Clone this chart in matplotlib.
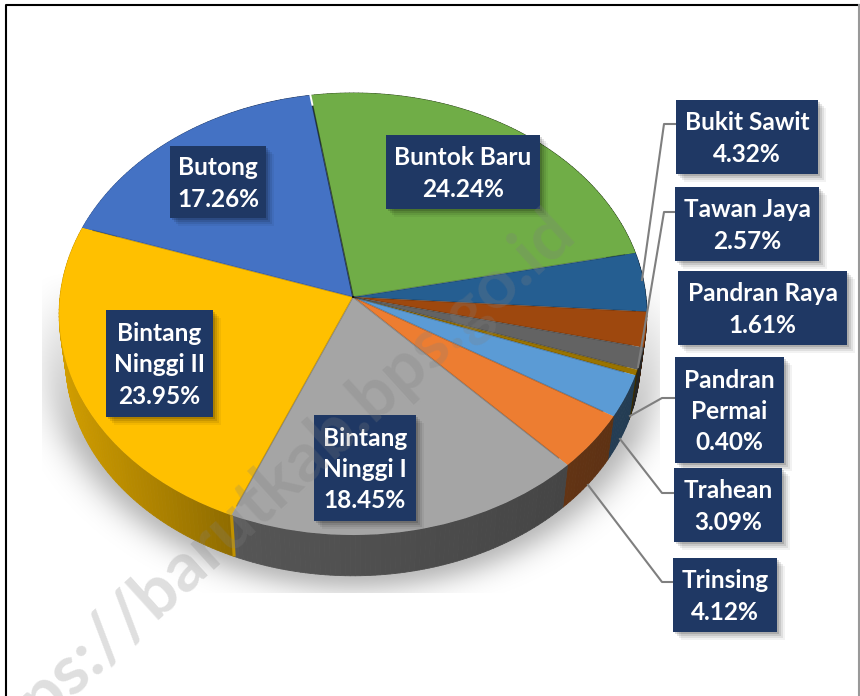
import numpy as np
import matplotlib
matplotlib.use('Agg')
import matplotlib.pyplot as plt
from matplotlib.collections import PolyCollection
from matplotlib.patches import Rectangle
from matplotlib.path import Path
from matplotlib.transforms import Transform

# Data
names = ['Buntok Baru', 'Bukit Sawit', 'Tawan Jaya', 'Pandran Raya', 'Pandran\nPermai',
         'Trahean', 'Trinsing', 'Bintang\nNinggi I', 'Bintang\nNinggi II', 'Butong']
shares = [24.24, 4.32, 2.57, 1.61, 0.40, 3.09, 4.12, 18.45, 23.95, 17.26]
colors = ['#70AD47', '#255E91', '#9E480E', '#636363', '#997300',
          '#5B9BD5', '#ED7D31', '#A5A5A5', '#FFC000', '#4472C4']

# Label boxes in image pixels: left, right, top, bottom
boxes = [(386, 540, 135, 209), (676, 818, 100, 174), (675, 819, 187, 261), (678, 847, 271, 345),
         (675, 784, 357, 463), (674, 782, 468, 542), (673, 777, 558, 632), (314, 416, 415, 521),
         (106, 213, 310, 417), (170, 266, 146, 218)]

# Leader lines in image pixels
leaders = [([676, 664, 642], [124, 124, 280]),
           ([675, 664, 638], [212, 212, 367]),
           ([675, 662, 630], [398, 398, 416]),
           ([674, 662, 620], [493, 493, 439]),
           ([673, 662, 588], [582, 582, 485])]

# Pie geometry
CX, CY = 353, 297
A, B, K = 293, 219.7, 0.0769
DEPTH, SHRINK = 46, 0.022
START = 99


def tilt(u, v, t=0.0):
    w = 1 + K * v
    s = 1 - SHRINK * t
    return CX + s * A * u / w, CY - s * B * v / w + DEPTH * t


class Tilt(Transform):
    input_dims = 2
    output_dims = 2

    def transform_non_affine(self, xy):
        xy = np.asarray(xy, dtype=float)
        return np.column_stack(tilt(xy[:, 0], xy[:, 1]))

    def transform_path_non_affine(self, path):
        return Path(self.transform_non_affine(path.vertices), path.codes)


plt.rcParams['font.family'] = ['Lato', 'DejaVu Sans']

fig = plt.figure(figsize=(8.6, 6.96), dpi=100)
ax = fig.add_axes([0, 0, 1, 1])

# Soft shadow below the pie, fading out towards the top
yy, xx = np.mgrid[0:593, 42:660]
dist = np.hypot((xx - 353) / 300.0, (yy - 345) / 235.0)
fade = np.exp(-(np.clip(dist - 0.96, 0, None) / 0.10) ** 2) * 0.27
fade *= np.clip((yy - 270) / 170.0, 0, 1)
shadow = np.zeros(fade.shape + (4,))
shadow[..., 3] = fade

# Side wall, one quad per small angle step
edges = np.cumsum([0] + shares) / sum(shares)
quads, quad_colors = [], []
for i, col in enumerate(colors):
    base = np.array(matplotlib.colors.to_rgb(col))
    a1 = np.deg2rad(START - 360 * edges[i])
    a2 = np.deg2rad(START - 360 * edges[i + 1])
    steps = np.linspace(a1, a2, max(3, int(shares[i] * 4)))
    for p, q in zip(steps[:-1], steps[1:]):
        x1, y1 = tilt(np.cos(p), np.sin(p))
        x2, y2 = tilt(np.cos(q), np.sin(q))
        x3, y3 = tilt(np.cos(q), np.sin(q), 1)
        x4, y4 = tilt(np.cos(p), np.sin(p), 1)
        quads.append([(x1, y1), (x2, y2), (x3, y3), (x4, y4)])
        f = np.interp((x1 + x2) / 2, [60, 232, 235, 560, 650], [0.82, 0.56, 0.52, 0.42, 0.38])
        quad_colors.append(base * f)

ax.imshow(shadow, extent=(42, 660, 593, 0), zorder=1, aspect='auto', interpolation='bilinear')
ax.add_collection(PolyCollection(quads, facecolors=quad_colors, edgecolors=quad_colors,
                                 linewidths=0.6, zorder=2))

# Top surface
wedges, _ = ax.pie(shares, colors=colors, startangle=START, counterclock=False, radius=1)
tilt_tf = Tilt() + ax.transData
for w in wedges:
    w.set_transform(tilt_tf)
    w.set_zorder(3)

# Dark seams between the slices
for i in range(len(shares)):
    ang = np.deg2rad(START - 360 * edges[i])
    sx, sy = tilt(np.array([0, 0.96]) * np.cos(ang), np.array([0, 0.96]) * np.sin(ang))
    ax.plot(sx, sy, color='black', alpha=0.55 if i == 0 else 0.22, lw=1.2 if i == 0 else 1.0, zorder=4)

# Small white gap at the rim above the green slice
ang = np.deg2rad(START)
gx, gy = tilt(np.array([0.95, 1.02]) * np.cos(ang), np.array([0.95, 1.02]) * np.sin(ang))
ax.plot(gx, gy, color='white', lw=1.4, zorder=4)

# Yellow edge on the wall next to the grey slice
ang = np.deg2rad(START - 360 * edges[8])
ex0, ey0 = tilt(np.cos(ang), np.sin(ang))
ex1, ey1 = tilt(np.cos(ang), np.sin(ang), 1)
ax.plot([ex0, ex1], [ey0, ey1], color='#C29200', lw=2.2, zorder=4, solid_capstyle='butt')

# Leader lines
for lx, ly in leaders:
    ax.plot(lx, ly, color='#7F7F7F', lw=1.5, zorder=5)

# Labels
for name, share, (x0, x1, y0, y1) in zip(names, shares, boxes):
    for off, al in zip([8, 6, 4, 2], [0.05, 0.08, 0.1, 0.14]):
        ax.add_patch(Rectangle((x0 + off, y0 + off), x1 - x0, y1 - y0, color='black',
                               alpha=al, lw=0, zorder=6))
    ax.add_patch(Rectangle((x0, y0), x1 - x0, y1 - y0, color='#1F3864', lw=0, zorder=7))
    ax.text((x0 + x1) / 2, (y0 + y1) / 2 + 1.5, f'{name}\n{share:.2f}%', color='white', fontsize=17.6,
            fontweight='bold', ha='center', va='center', linespacing=1.43, zorder=8)

# Watermark
ax.text(566, 222, 'https://barutkab.bps.go.id', color='#808080', alpha=0.25, fontsize=50,
        fontweight='bold', rotation=42.2, rotation_mode='anchor', ha='right', va='center', zorder=9)

# Frame
ax.plot([6, 6, 859], [696, 4.5, 4.5], color='black', lw=1.5, zorder=10)
ax.plot([859, 859], [4.5, 696], color='#999999', lw=1.5, zorder=10)

ax.set_xlim(0, 860)
ax.set_ylim(696, 0)
ax.set_aspect('auto')
ax.axis('off')

fig.savefig('out.png', dpi=100, facecolor='white')
